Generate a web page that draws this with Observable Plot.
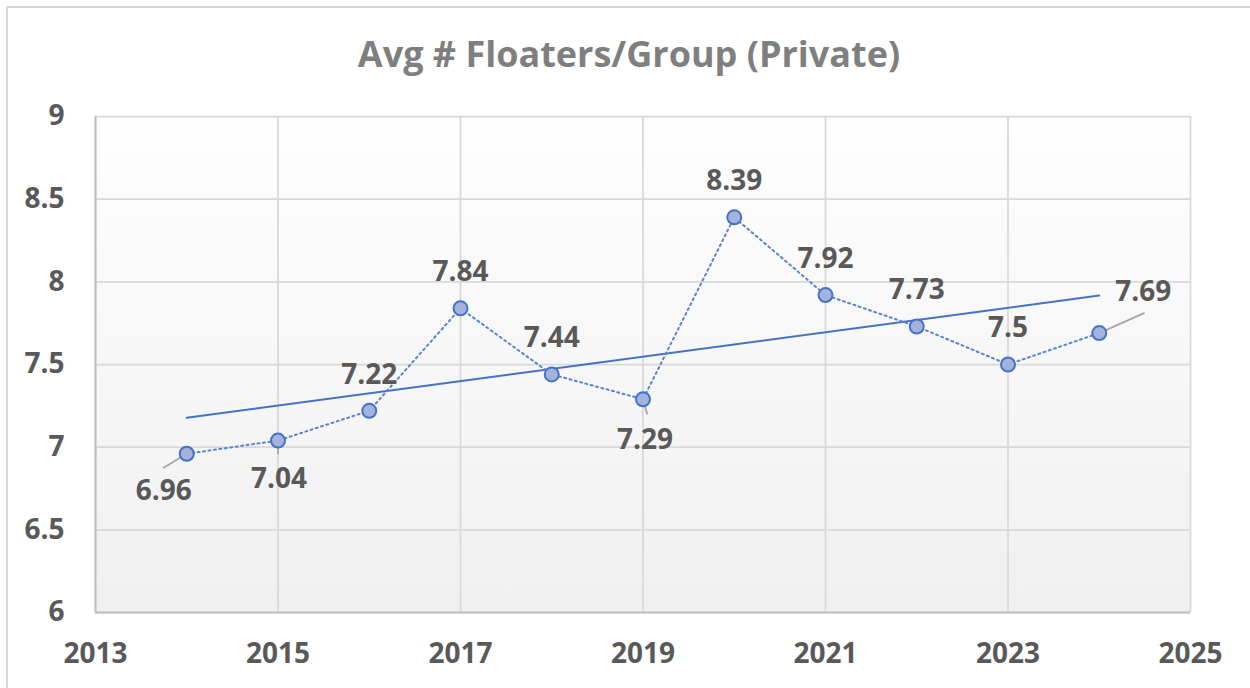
<!DOCTYPE html>
<html><head><meta charset="utf-8">
<script src="https://cdn.jsdelivr.net/npm/d3@7"></script>
<script src="https://cdn.jsdelivr.net/npm/@observablehq/plot@0.6"></script>
<style>
body{margin:0;background:#fff;}
#wrap{position:relative;width:1250px;height:688px;overflow:hidden;font-family:"Open Sans",sans-serif;}
#border{position:absolute;left:6px;top:6px;width:1300px;height:700px;border:2px solid #d9d9d9;}
#title{position:absolute;left:0;top:36px;width:1258px;text-align:center;font-size:36px;line-height:36px;font-weight:700;color:#7f7f7f;}
#chart{position:absolute;left:0;top:96px;}
</style></head>
<body><div id="wrap"><div id="border"></div><div id="title">Avg # Floaters/Group (Private)</div><div id="chart"></div></div>
<script>
// ---- data ----
const years = [2014, 2015, 2016, 2017, 2018, 2019, 2020, 2021, 2022, 2023, 2024];
const values = [6.96, 7.04, 7.22, 7.84, 7.44, 7.29, 8.39, 7.92, 7.73, 7.5, 7.69];
const labelTexts = ["6.96", "7.04", "7.22", "7.84", "7.44", "7.29", "8.39", "7.92", "7.73", "7.5", "7.69"];
const labelPlacement = ["belowLeft", "below", "above", "above", "above", "belowSlight", "above", "above", "above", "above", "aboveRight"];
const xTicks = [2013, 2015, 2017, 2019, 2021, 2023, 2025];
const yTicks = [6, 6.5, 7, 7.5, 8, 8.5, 9];

// ---- styles ----
const blue = "#4472c4";
const textColor = "#595959";
const placementStyle = {
  above: {dx: 0, dy: -36},
  below: {dx: 1, dy: 38, leader: {length: 13, rotate: 180}},
  belowLeft: {dx: -23, dy: 37, leader: {length: 27, rotate: -121}},
  belowSlight: {dx: 2, dy: 41, leader: {length: 15, rotate: 164}},
  aboveRight: {dx: 44, dy: -41, leader: {length: 49, rotate: 66}}
};
const leaderShape = {draw(context, l) { context.moveTo(0, 0); context.lineTo(0, -l); }};

const data = years.map((year, i) => ({year, value: values[i], label: labelTexts[i], placement: labelPlacement[i]}));

const leaderMarks = data.filter(d => placementStyle[d.placement].leader).map(d => {
  const p = placementStyle[d.placement].leader;
  return Plot.vector([d], {x: "year", y: "value", length: p.length, rotate: p.rotate, anchor: "start",
    shape: leaderShape, stroke: "#a6a6a6", strokeWidth: 1.75});
});
const labelMarks = data.map(d => {
  const p = placementStyle[d.placement];
  return Plot.text([d], {x: "year", y: "value", text: "label", dx: p.dx, dy: p.dy,
    fontSize: 28, fontWeight: 700, fill: textColor});
});

const chart = Plot.plot({
  width: 1250,
  height: 592,
  marginTop: 20,
  marginBottom: 76,
  marginLeft: 95,
  marginRight: 60,
  style: {fontFamily: "'Open Sans', sans-serif", fontSize: "28px", fontWeight: 700, color: textColor, background: "transparent"},
  x: {domain: [2013, 2025]},
  y: {domain: [6, 9]},
  marks: [
    Plot.frame({fill: "url(#plotBg)", stroke: null}),
    Plot.gridX(xTicks, {stroke: "#d9d9d9", strokeOpacity: 1, strokeWidth: 1.75}),
    Plot.gridY(yTicks, {stroke: "#d9d9d9", strokeOpacity: 1, strokeWidth: 1.75}),
    Plot.ruleX([2013], {stroke: "#bfbfbf", strokeWidth: 2}),
    Plot.ruleY([6], {stroke: "#bfbfbf", strokeWidth: 2}),
    Plot.axisX(xTicks, {tickSize: 0, tickPadding: 31, tickFormat: d => String(d), label: null}),
    Plot.axisY(yTicks, {tickSize: 0, tickPadding: 31, tickFormat: d => String(d), label: null}),
    Plot.linearRegressionY(data, {x: "year", y: "value", ci: 0, stroke: blue, strokeWidth: 2}),
    Plot.line(data, {x: "year", y: "value", stroke: "#5b84cf", strokeWidth: 2, strokeDasharray: "2,3.5"}),
    ...leaderMarks,
    Plot.dot(data, {x: "year", y: "value", r: 7, fill: "#a4b3dd", stroke: blue, strokeWidth: 2}),
    ...labelMarks
  ]
});

d3.select(chart).insert("defs", ":first-child").html(
  '<linearGradient id="plotBg" x1="0" y1="0" x2="0" y2="1">' +
  '<stop offset="0" stop-color="#fefefe"/><stop offset="1" stop-color="#f0f0f0"/></linearGradient>');

document.getElementById("chart").appendChild(chart);
</script>
</body></html>
